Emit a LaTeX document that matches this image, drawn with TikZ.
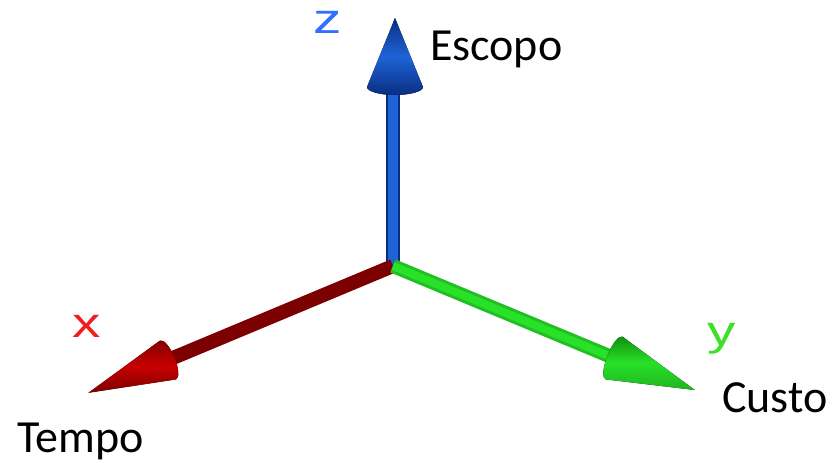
\documentclass[tikz,border=0pt]{standalone}
\usepackage{fontspec}
\setmainfont{Carlito}
\newfontfamily\axfont{Liberation Sans}
\usepackage{tikz}
\usetikzlibrary{positioning}
\definecolor{zblue}{RGB}{30, 100, 215}
\definecolor{zdark}{RGB}{10, 45, 130}
\definecolor{zlab}{RGB}{50, 110, 255}
\definecolor{xred}{RGB}{200, 0, 0}
\definecolor{xdark}{RGB}{125, 0, 0}
\definecolor{xlab}{RGB}{240, 30, 30}
\definecolor{ygreen}{RGB}{40, 225, 40}
\definecolor{ydark}{RGB}{15, 140, 15}
\definecolor{ylab}{RGB}{60, 225, 40}

\begin{document}
\begin{tikzpicture}[x=1pt, y=-1pt,
    every node/.style={font=\fontsize{46}{50}\selectfont, inner sep=0pt},
    shaft/.style={line width=14pt},
    axlab/.style={font=\axfont\fontsize{42}{44}\selectfont, xscale=1.35}]
      \useasboundingbox (0,0) rectangle (836,463);
      \coordinate (o) at (393,266);
      \coordinate (zb) at (393,88);
      \coordinate (xb) at (168,360);
      \coordinate (yb) at (614,358);
      % shafts
      \draw[shaft, zdark] (o) -- (zb);
      \draw[line width=10pt, zblue] (o) -- (zb);
      \draw[shaft, xdark] (o) -- (xb);
      \draw[shaft, ygreen!85!black] (o) -- (yb);
      \draw[line width=8pt, ygreen] (o) -- (yb);
      % cones
      \begin{scope}[shift={(395,87)}, rotate=90]
        \fill[top color=zdark, bottom color=zdark, middle color=zblue]
          (0pt,28pt) -- (69pt,0pt) -- (0pt,-28pt)
          arc[start angle=-90, end angle=-270, x radius=8pt, y radius=28pt] -- cycle;
      \end{scope}
      \begin{scope}[shift={(168,360)}, rotate=202.4]
        \fill[top color=xdark, bottom color=xdark, middle color=xred]
          (0pt,21pt) -- (86pt,0pt) -- (0pt,-21pt)
          arc[start angle=-90, end angle=-270, x radius=7pt, y radius=21pt] -- cycle;
      \end{scope}
      \begin{scope}[shift={(614,358)}, rotate=-21.6]
        \fill[top color=ydark, bottom color=ygreen!80!black, middle color=ygreen]
          (0pt,23pt) -- (87pt,0pt) -- (0pt,-23pt)
          arc[start angle=-90, end angle=-270, x radius=7pt, y radius=23pt] -- cycle;
      \end{scope}
      % axis letters
      \node[axlab, zlab, anchor=base] (z) at (328,34) {z};
      \node[axlab, xlab, anchor=base] (x) at (87,337) {x};
      \node[axlab, ylab, anchor=base] (y) at (722,345) {y};
      % names
      \node[anchor=base west] (e) at (430,60) {Escopo};
      \node[anchor=base west] (t) at (17,452) {Tempo};
      \node[anchor=base west] (c) at (722,412) {Custo};
    \end{tikzpicture}
\end{document}
